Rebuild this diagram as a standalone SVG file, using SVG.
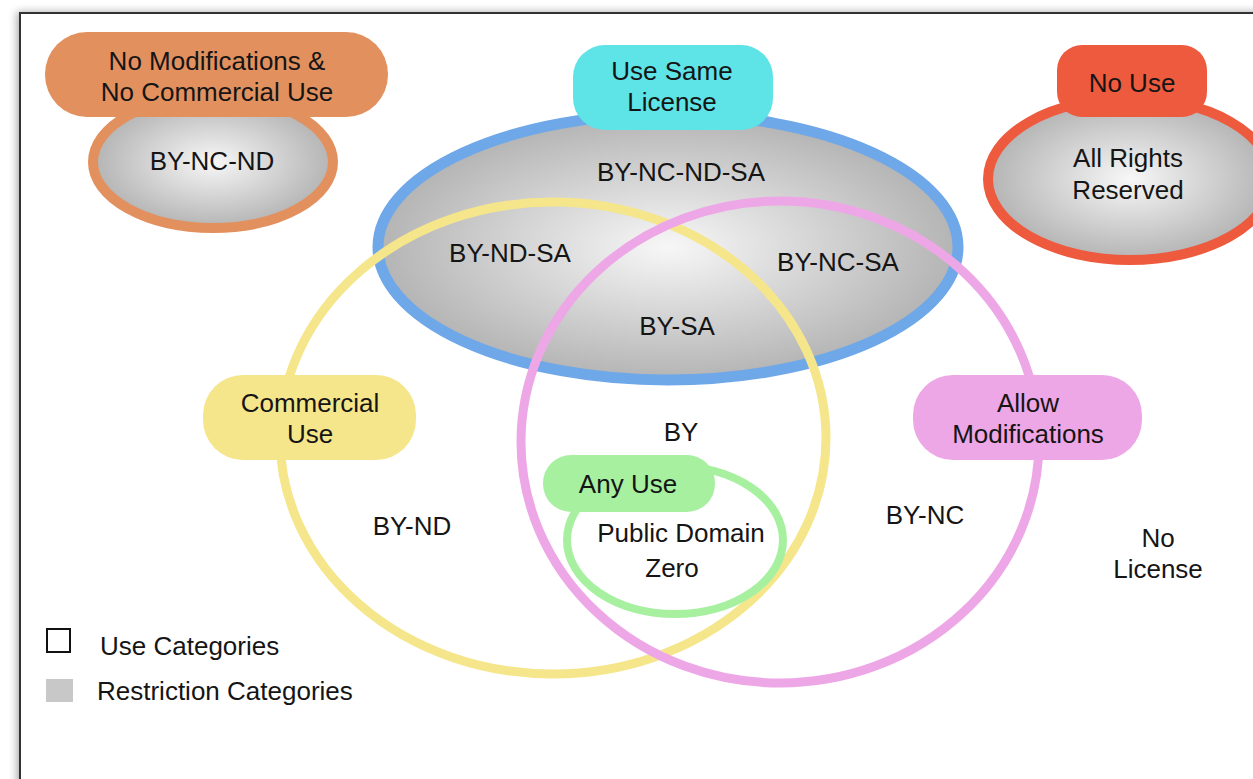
<svg xmlns="http://www.w3.org/2000/svg" width="1253" height="779" viewBox="0 0 1253 779">
<style>
text{font-family:"Liberation Sans",Arial,sans-serif;font-size:26px;fill:#151515;text-anchor:middle}
.lg{text-anchor:start}
.ring{fill:none}
</style>
<defs>
<radialGradient id="gray" cx="0.5" cy="0.5" r="0.5">
<stop offset="0" stop-color="#f7f7f7"/>
<stop offset="1" stop-color="#b4b4b4"/>
</radialGradient>
<filter id="sh" x="-5%" y="-5%" width="110%" height="110%">
<feDropShadow dx="-2" dy="0" stdDeviation="4" flood-color="#000" flood-opacity="0.35"/>
</filter>
</defs>
<rect x="0" y="0" width="1253" height="779" fill="#fff"/>
<rect x="20" y="13" width="1260" height="800" fill="#fff" stroke="#333" stroke-width="2" filter="url(#sh)"/>

<g id="connectors"></g>

<g id="by-nc-nd">
<ellipse cx="213" cy="162" rx="120" ry="66" fill="url(#gray)" stroke="#e3905f" stroke-width="10"/>
<rect x="45" y="32" width="343" height="85" rx="42" fill="#e3905f"/>
<text x="217" y="70">No Modifications &amp;</text>
<text x="217" y="101">No Commercial Use</text>
<text x="212" y="170">BY-NC-ND</text>
</g>

<g id="share-alike">
<ellipse cx="668" cy="247" rx="290" ry="133" fill="url(#gray)" stroke="#6fa8e8" stroke-width="11"/>
<text x="681" y="181">BY-NC-ND-SA</text>
<text x="510" y="262">BY-ND-SA</text>
<text x="838" y="271">BY-NC-SA</text>
<text x="677" y="335">BY-SA</text>
</g>

<g id="no-use">
<ellipse cx="1130" cy="179" rx="142" ry="81" fill="url(#gray)" stroke="#ee5a3e" stroke-width="10"/>
<rect x="1057" y="45" width="150" height="72" rx="25" fill="#ee5a3e"/>
<text x="1132" y="92">No Use</text>
<text x="1128" y="167">All Rights</text>
<text x="1128" y="199">Reserved</text>
</g>

<g id="commercial">
<ellipse class="ring" cx="553" cy="438" rx="273" ry="236" stroke="#f5e68b" stroke-width="9"/>
</g>

<g id="modifications">
<ellipse class="ring" cx="780" cy="442" rx="259" ry="241" stroke="#eea7e6" stroke-width="9"/>
</g>

<g id="any-use">
<ellipse class="ring" cx="675" cy="540" rx="108" ry="74" stroke="#a6f0a0" stroke-width="8"/>
<rect x="543" y="455" width="172" height="57" rx="28" fill="#a6f0a0"/>
<text x="628" y="493">Any Use</text>
<text x="681" y="542">Public Domain</text>
<text x="672" y="577">Zero</text>
</g>

<g id="use-same-license">
<rect x="573" y="45" width="200" height="85" rx="32" fill="#5ee3e7"/>
<text x="672" y="80">Use Same</text>
<text x="672" y="111">License</text>
</g>

<g id="commercial-label">
<rect x="203" y="375" width="213" height="85" rx="40" fill="#f5e68b"/>
<text x="310" y="412">Commercial</text>
<text x="310" y="443">Use</text>
</g>

<g id="modifications-label">
<rect x="913" y="375" width="229" height="85" rx="40" fill="#eea7e6"/>
<text x="1028" y="412">Allow</text>
<text x="1028" y="443">Modifications</text>
</g>

<g id="regions">
<text x="681" y="441">BY</text>
<text x="412" y="535">BY-ND</text>
<text x="925" y="524">BY-NC</text>
<text x="1158" y="547">No</text>
<text x="1158" y="578">License</text>
</g>

<g id="legend">
<rect x="47" y="629" width="23" height="23" fill="#fff" stroke="#111" stroke-width="2"/>
<text class="lg" x="100" y="655">Use Categories</text>
<rect x="46" y="679" width="27" height="23" fill="#c8c8c8"/>
<text class="lg" x="97" y="700">Restriction Categories</text>
</g>
</svg>
